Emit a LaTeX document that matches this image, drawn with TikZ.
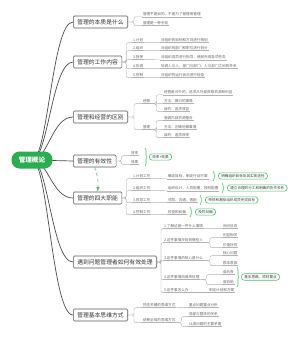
\documentclass[tikz,border=0pt]{standalone}
\usepackage{fontspec}
\usepackage{xcolor}
\usepackage{tikz}
\usetikzlibrary{decorations.pathreplacing}
\newfontfamily\cjk{Noto Sans CJK SC}
\definecolor{mindgreen}{HTML}{2BAE4F}
\definecolor{sumgreen}{HTML}{4CC274}

\begin{document}
\begin{tikzpicture}[x=1pt, y=-1pt,
    root/.style={fill=mindgreen, text=white, rounded corners=8pt, minimum width=41pt, minimum height=17pt, font=\cjk\fontsize{6.6}{8}\selectfont\bfseries},
    topic/.style={draw=black!65, fill=white, line width=0.6pt, rounded corners=1.2pt, anchor=west, minimum height=12pt, inner xsep=4pt, text=black!80, font=\cjk\fontsize{5.8}{7}\selectfont},
    leaf/.style={anchor=west, inner sep=0.8pt, text=black!60, font=\cjk\fontsize{3.6}{4.4}\selectfont, append after command={(\tikzlastnode.south west) edge[uline] (\tikzlastnode.south east)}},
    summary/.style={draw=sumgreen, fill=white, line width=0.6pt, rounded corners=3pt, anchor=west, inner xsep=3pt, inner ysep=1.5pt, text=black!75, font=\cjk\fontsize{3.6}{4.4}\selectfont},
    uline/.style={draw=black!30, line width=0.4pt},
    trunk/.style={draw=black!70, line width=0.7pt},
    twig/.style={draw=black!30, line width=0.4pt, rounded corners=2pt, to path={-- ++(#1,0) |- (\tikztotarget)}},
    twig/.default=4,
    gbrace/.style={draw=sumgreen, line width=0.6pt, decorate, decoration={brace, amplitude=2pt}},
    link/.style={-latex, draw=sumgreen, dashed, line width=0.6pt}
]
\useasboundingbox[fill=white] (0,0) rectangle (300,338);

\coordinate (hub) at (32,160);

\node[topic] (essence) at (73,22) {管理的本质是什么};
\node[topic] (work) at (73,62) {管理的工作内容};
\node[topic] (differ) at (73,117) {管理和经营的区别};
\node[topic] (effect) at (73,161) {管理的有效性};
\node[topic] (functions) at (73,198) {管理的四大职能};
\node[topic] (problem) at (73,262) {遇到问题管理者如何有效处理};
\node[topic] (thinking) at (73,315) {管理基本思维方式};

\draw[trunk] (hub) .. controls +(16,0) and +(-21,0) .. (essence.west);
\draw[trunk] (hub) .. controls +(16,0) and +(-21,0) .. (work.west);
\draw[trunk] (hub) .. controls +(16,0) and +(-21,0) .. (differ.west);
\draw[trunk] (hub) -- (effect.west);
\draw[trunk] (hub) .. controls +(16,0) and +(-21,0) .. (functions.west);
\draw[trunk] (hub) .. controls +(16,0) and +(-21,0) .. (problem.west);
\draw[trunk] (hub) .. controls +(16,0) and +(-21,0) .. (thinking.west);

\node[root] (root) at (hub) {管理概论};

\node[leaf] (ess1) at (142,14) {管理不是目的，不是为了管理而管理};
\node[leaf] (ess2) at (142,23) {管理是一种手段};
\draw[twig=6] (essence.east) to (ess1.south west);
\draw[twig=6] (essence.east) to (ess2.south west);

\node[leaf] (w1) at (132,40) {1.计划};
\node[leaf] (w2) at (132,48) {2.组织};
\node[leaf] (w3) at (132,57) {3.指挥};
\node[leaf] (w4) at (132,66) {4.协调};
\node[leaf] (w5) at (132,75) {5.控制};
\node[leaf] (w1d) at (160,40) {对组织的目标和方向进行规划};
\node[leaf] (w2d) at (160,48) {对组织的部门和职位进行划分};
\node[leaf] (w3d) at (160,57) {对组织成员进行指导，使其完成各项任务};
\node[leaf] (w4d) at (160,66) {协调人与人、部门与部门、人与部门之间的关系};
\node[leaf] (w5d) at (160,75) {对组织的运行状况进行检查};
\draw[twig] (work.east) to (w1.south west);
\draw[twig] (work.east) to (w2.south west);
\draw[twig] (work.east) to (w3.south west);
\draw[twig] (work.east) to (w4.south west);
\draw[twig] (work.east) to (w5.south west);
\draw[uline] (w1.south east) -- (w1d.south west);
\draw[uline] (w2.south east) -- (w2d.south west);
\draw[uline] (w3.south east) -- (w3d.south west);
\draw[uline] (w4.south east) -- (w4d.south west);
\draw[uline] (w5.south east) -- (w5d.south west);

\node[leaf] (jy) at (142,101) {经营};
\node[leaf] (gl) at (142,127) {管理};
\draw[twig=6] (differ.east) to (jy.south west);
\draw[twig=6] (differ.east) to (gl.south west);
\node[leaf] (jy1) at (163,92) {经营是对外的，追求从外部获取资源和利益};
\node[leaf] (jy2) at (163,101) {方法：做对的事情};
\node[leaf] (jy3) at (163,109) {目的：追求效益};
\node[leaf] (gl1) at (163,118) {强调内部资源整合};
\node[leaf] (gl2) at (163,127) {方法：正确地做事情};
\node[leaf] (gl3) at (163,135) {目的：追求效率};
\draw[twig=5] (jy.south east) to (jy1.south west);
\draw[twig=5] (jy.south east) to (jy2.south west);
\draw[twig=5] (jy.south east) to (jy3.south west);
\draw[twig=5] (gl.south east) to (gl1.south west);
\draw[twig=5] (gl.south east) to (gl2.south west);
\draw[twig=5] (gl.south east) to (gl3.south west);

\node[leaf] (ef1) at (130,153) {效率};
\node[leaf] (ef2) at (130,162) {效果};
\draw[twig=5] (effect.east) to (ef1.south west);
\draw[twig=5] (effect.east) to (ef2.south west);
\draw[gbrace] (145,148) -- (145,166);
\node[summary] (efsum) at (149,157) {效率+效果};

\draw[link] (effect.south) to[bend left=12] (functions.north);

\node[leaf] (f1) at (132,176) {1.计划工作};
\node[leaf] (f2) at (132,188) {2.组织工作};
\node[leaf] (f3) at (132,200) {3.领导工作};
\node[leaf] (f4) at (132,212) {4.控制工作};
\node[leaf] (f1d) at (167,176) {确定目标，制定行动方案};
\node[leaf] (f2d) at (167,188) {组织设计，人员配置，授权配置};
\node[leaf] (f3d) at (167,200) {领导、沟通、激励};
\node[leaf] (f4d) at (167,212) {检查和纠偏};
\draw[twig] (functions.east) to (f1.south west);
\draw[twig] (functions.east) to (f2.south west);
\draw[twig] (functions.east) to (f3.south west);
\draw[twig] (functions.east) to (f4.south west);
\draw[uline] (f1.south east) -- (f1d.south west);
\draw[uline] (f2.south east) -- (f2d.south west);
\draw[uline] (f3.south east) -- (f3d.south west);
\draw[uline] (f4.south east) -- (f4d.south west);
\draw[gbrace] (213,171) -- (213,181);
\draw[gbrace] (222,183) -- (222,193);
\draw[gbrace] (200,195) -- (200,205);
\draw[gbrace] (190,207) -- (190,217);
\node[summary] (f1s) at (218,176) {明确组织目标及其实现途径};
\node[summary] (f2s) at (227,188) {建立合理的分工和明确的协作关系};
\node[summary] (f3s) at (205,200) {带领和激励组织成员完成目标};
\node[summary] (f4s) at (195,212) {及时纠偏};

\node[leaf] (p1) at (163,226) {1.了解这是一件什么事情};
\node[leaf] (p2) at (163,240) {2.这件事情涉及到哪些人};
\node[leaf] (p3) at (163,258) {3.这件事情的核心是什么};
\node[leaf] (p4) at (163,277) {4.这件事情由谁来处理};
\node[leaf] (p5) at (163,290) {5.这件事怎么办};
\draw[twig] (problem.east) to (p1.south west);
\draw[twig] (problem.east) to (p2.south west);
\draw[twig] (problem.east) to (p3.south west);
\draw[twig] (problem.east) to (p4.south west);
\draw[twig] (problem.east) to (p5.south west);
\node[leaf] (p1a) at (222,226) {询问信息};
\node[leaf] (p2a) at (222,235) {利益相关};
\node[leaf] (p2b) at (222,245) {价值伙伴};
\node[leaf] (p3a) at (222,253) {核心问题};
\node[leaf] (p3b) at (222,263) {根本原因};
\node[leaf] (p4a) at (222,272) {谁负责};
\node[leaf] (p4b) at (222,282) {谁协助};
\node[leaf] (p5a) at (208,290) {制定计划和方案};
\draw[uline] (p1.south east) -- (p1a.south west);
\draw[twig=6] (p2.south east) to (p2a.south west);
\draw[twig=6] (p2.south east) to (p2b.south west);
\draw[twig=6] (p3.south east) to (p3a.south west);
\draw[twig=6] (p3.south east) to (p3b.south west);
\draw[twig=6] (p4.south east) to (p4a.south west);
\draw[twig=6] (p4.south east) to (p4b.south west);
\draw[uline] (p5.south east) -- (p5a.south west);
\draw[gbrace] (237,267) -- (237,287);
\node[summary] (p4s) at (241,277) {基本思路，原则要点};

\node[leaf] (t1) at (142,305) {抓住关键的思维方式};
\node[leaf] (t2) at (142,320) {统筹全局的思维方式};
\draw[twig=6] (thinking.east) to (t1.south west);
\draw[twig=6] (thinking.east) to (t2.south west);
\node[leaf] (t1a) at (188,305) {重点问题重点分析};
\node[leaf] (t2a) at (188,314) {局部与整体的关系};
\node[leaf] (t2b) at (188,324) {认清问题的主要矛盾};
\draw[uline] (t1.south east) -- (t1a.south west);
\draw[twig=5] (t2.south east) to (t2a.south west);
\draw[twig=5] (t2.south east) to (t2b.south west);

\end{tikzpicture}
\end{document}
